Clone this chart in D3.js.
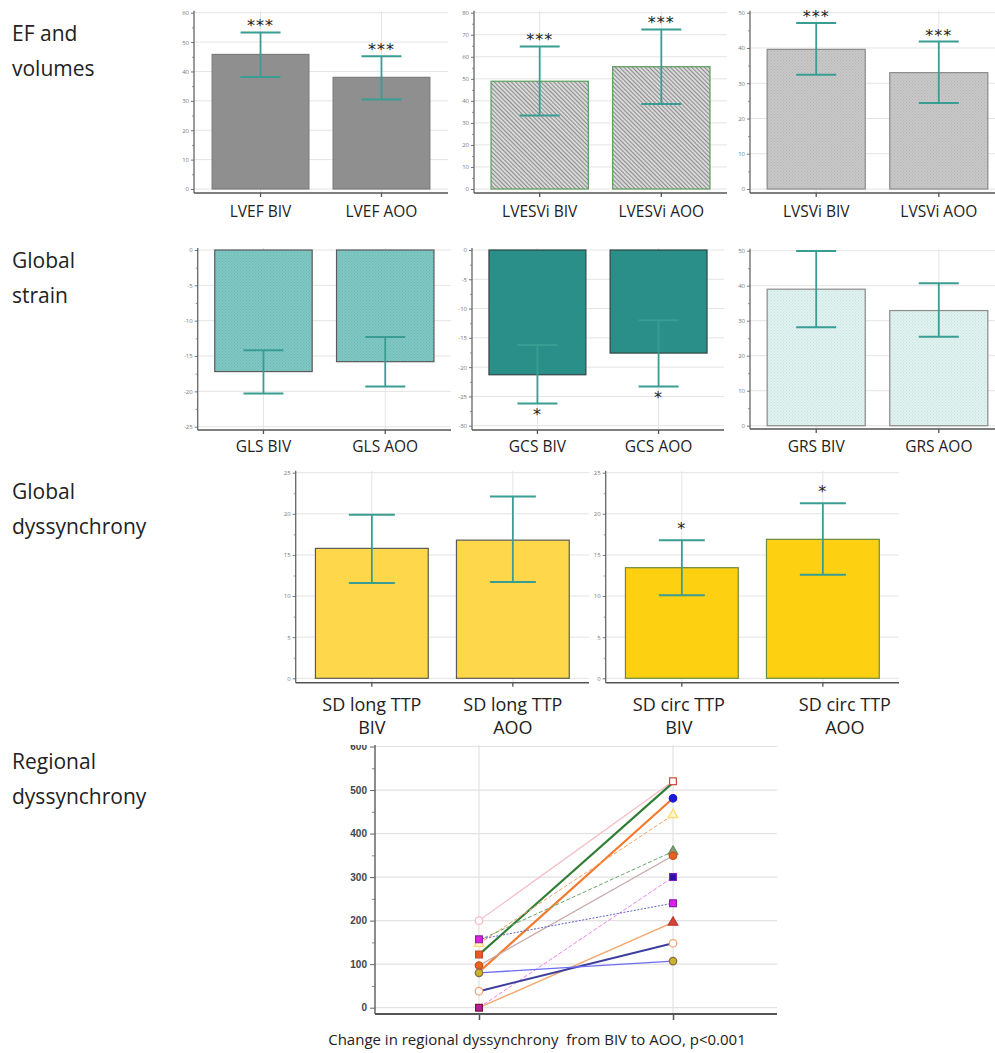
<!DOCTYPE html>
<html>
<head>
<meta charset="utf-8">
<script src="https://cdn.jsdelivr.net/npm/d3@7"></script>
<style>
body { margin: 0; background: #fff; }
text { font-family: "Open Sans", sans-serif; }
</style>
</head>
<body>
<div id="chart"></div>
<script>
var w = 995;
var h = 1053;

// ---- data ----
var lvefCats = ["LVEF BIV", "LVEF AOO"];
var lvefMean = [45.8, 38.0];
var lvefLo = [38.1, 30.5];
var lvefHi = [53.3, 45.2];
var lvefStars = ["***", "***"];

var lvesviCats = ["LVESVi BIV", "LVESVi AOO"];
var lvesviMean = [48.9, 55.5];
var lvesviLo = [33.4, 38.6];
var lvesviHi = [64.7, 72.4];
var lvesviStars = ["***", "***"];

var lvsviCats = ["LVSVi BIV", "LVSVi AOO"];
var lvsviMean = [39.6, 33.0];
var lvsviLo = [32.4, 24.4];
var lvsviHi = [47.1, 41.8];
var lvsviStars = ["***", "***"];

var glsCats = ["GLS BIV", "GLS AOO"];
var glsMean = [-17.2, -15.8];
var glsLo = [-20.3, -19.3];
var glsHi = [-14.2, -12.3];

var gcsCats = ["GCS BIV", "GCS AOO"];
var gcsMean = [-21.3, -17.6];
var gcsLo = [-26.2, -23.3];
var gcsHi = [-16.2, -12.0];
var gcsStars = ["*", "*"];

var grsCats = ["GRS BIV", "GRS AOO"];
var grsMean = [39.0, 32.9];
var grsLo = [28.1, 25.4];
var grsHi = [49.9, 40.7];

var sdLongCats = ["SD long TTP|BIV", "SD long TTP|AOO"];
var sdLongMean = [15.8, 16.8];
var sdLongLo = [11.6, 11.7];
var sdLongHi = [19.9, 22.1];

var sdCircCats = ["SD circ TTP|BIV", "SD circ TTP|AOO"];
var sdCircMean = [13.45, 16.9];
var sdCircLo = [10.1, 12.6];
var sdCircHi = [16.8, 21.3];
var sdCircStars = ["*", "*"];

var regGroups = ["BIV", "AOO"];
var regBiv = [200, 122, 82, 147, 155, 97, 0, 157, 0, 38, 80];
var regAoo = [520, 517, 481, 443, 359, 349, 300, 240, 196, 148, 107];
var regTicks = [0, 100, 200, 300, 400, 500, 600];

var rowTitles = [["EF and", "volumes"], ["Global", "strain"], ["Global", "dyssynchrony"], ["Regional", "dyssynchrony"]];
var caption = "Change in regional dyssynchrony  from BIV to AOO, p<0.001";

// ---- styles for the individual patient lines ----
var regStyle = [
	{color: "#f6b8c3", width: 1.2, dash: null, mB: ["circle", "#fff", "#f6b8c3"], mA: ["square", "#fff", "#d24a45"]},
	{color: "#2f7d32", width: 2.2, dash: null, mB: ["square", "#ea5a25", "#c44a20"], mA: null},
	{color: "#f27a2e", width: 2.2, dash: null, mB: null, mA: ["circle", "#1a1ad6", "#1a1ad6"]},
	{color: "#f4a468", width: 1, dash: "4,2", mB: ["triangle", "#fff6c8", "#ffd86a"], mA: ["triangle", "#fff6c8", "#ffd86a"]},
	{color: "#6aa66a", width: 1, dash: "4,2", mB: null, mA: ["triangle", "#8a9c78", "#6a8a60"]},
	{color: "#c9a9a9", width: 1.3, dash: null, mB: ["circle", "#e8621f", "#c85020"], mA: ["circle", "#e8621f", "#c85020"]},
	{color: "#f07ef0", width: 1, dash: "4,2", mB: ["square", "#b0209a", "#8a1040"], mA: ["square", "#2a10a8", "#7a20c0"]},
	{color: "#6262cc", width: 1, dash: "2,1.5", mB: ["square", "#e020e8", "#8a20a8"], mA: ["square", "#e020e8", "#8a20a8"]},
	{color: "#f4a468", width: 1.3, dash: null, mB: null, mA: ["triangle", "#d8433a", "#b83a30"]},
	{color: "#3d3d9e", width: 2, dash: null, mB: ["circle", "#fff", "#f4a070"], mA: ["circle", "#fff", "#f4a070"]},
	{color: "#6d6df4", width: 1.3, dash: null, mB: ["circle", "#c8b428", "#8a6a48"], mA: ["circle", "#c8b428", "#8a6a48"]}
];

var barPanels = [
	{cats: lvefCats, mean: lvefMean, lo: lvefLo, hi: lvefHi, stars: lvefStars, domain: [0, 60], major: 10, minor: 5,
	 left: 194, right: 448, top: 12.7, bottom: 189, axisAt: 193, outer: 0.15, fill: "#8f8f8f", stroke: "#7c7c7c",
	 starSide: "above", starGap: 0, labelY: [212], labelSize: 15.5, capW: 40},
	{cats: lvesviCats, mean: lvesviMean, lo: lvesviLo, hi: lvesviHi, stars: lvesviStars, domain: [0, 80], major: 10, minor: 5,
	 left: 474, right: 727, top: 12.7, bottom: 189, axisAt: 193, outer: 0.14, fill: "url(#hatch)", stroke: "#5c9c5c",
	 starSide: "above", starGap: 0, labelY: [212], labelSize: 15.5, capW: 40},
	{cats: lvsviCats, mean: lvsviMean, lo: lvsviLo, hi: lvsviHi, stars: lvsviStars, domain: [0, 50], major: 10, minor: 5,
	 left: 750, right: 1005, top: 12.7, bottom: 189, axisAt: 193, outer: 0.14, fill: "url(#dotsGray)", stroke: "#8a8a8a",
	 starSide: "above", starGap: 0, labelY: [212], labelSize: 15.5, capW: 40},
	{cats: glsCats, mean: glsMean, lo: glsLo, hi: glsHi, stars: null, domain: [-25, 0], major: 5, minor: 2.5,
	 left: 197.7, right: 451, top: 250, bottom: 426.7, axisAt: 430, outer: 0.14, fill: "url(#dotsTeal)", stroke: "#5a5a5a",
	 starSide: "below", starGap: 0, labelY: [447], labelSize: 15.5, capW: 40},
	{cats: gcsCats, mean: gcsMean, lo: gcsLo, hi: gcsHi, stars: gcsStars, domain: [-30, 0], major: 5, minor: 2.5,
	 left: 472, right: 724, top: 250, bottom: 425.7, axisAt: 430, outer: 0.14, fill: "#2a8f88", stroke: "#344",
	 starSide: "below", starGap: 17, labelY: [447], labelSize: 15.5, capW: 40},
	{cats: grsCats, mean: grsMean, lo: grsLo, hi: grsHi, stars: null, domain: [0, 50], major: 10, minor: 5,
	 left: 750, right: 1005, top: 250.7, bottom: 425.7, axisAt: 429, outer: 0.14, fill: "url(#dotsPale)", stroke: "#8a8a8a",
	 starSide: "above", starGap: 0, labelY: [447], labelSize: 15.5, capW: 40},
	{cats: sdLongCats, mean: sdLongMean, lo: sdLongLo, hi: sdLongHi, stars: null, domain: [0, 25], major: 5, minor: 2.5,
	 left: 295.7, right: 589, top: 472.7, bottom: 678.3, axisAt: 682.7, outer: 0.14, fill: "#fed84a", stroke: "#5a5a5a",
	 starSide: "above", starGap: 0, labelY: [705, 728], labelSize: 18, capW: 46, labelShift: [0, 0]},
	{cats: sdCircCats, mean: sdCircMean, lo: sdCircLo, hi: sdCircHi, stars: sdCircStars, domain: [0, 25], major: 5, minor: 2.5,
	 left: 605.7, right: 899, top: 472.7, bottom: 678.3, axisAt: 682.7, outer: 0.14, fill: "#fdd012", stroke: "#6c8a40",
	 starSide: "above", starGap: 5, labelY: [705, 728], labelSize: 18, capW: 46, labelShift: [-3, 22]}
];

var errColor = "#3a9d93";

var svg = d3.select("#chart")
			.append("svg")
			.attr("width", w)
			.attr("height", h);

// fill textures
var defs = svg.append("defs");

var hatch = defs.append("pattern")
	.attr("id", "hatch")
	.attr("patternUnits", "userSpaceOnUse")
	.attr("width", 3)
	.attr("height", 3)
	.attr("patternTransform", "rotate(-45)");
hatch.append("rect").attr("width", 3).attr("height", 3).attr("fill", "#dadada");
hatch.append("line").attr("x1", 0.5).attr("y1", 0).attr("x2", 0.5).attr("y2", 3)
	.attr("stroke", "#8c8c8c").attr("stroke-width", 1.1);

function dotPattern(id, base, dot) {
	var p = defs.append("pattern")
		.attr("id", id)
		.attr("patternUnits", "userSpaceOnUse")
		.attr("width", 3)
		.attr("height", 3);
	p.append("rect").attr("width", 3).attr("height", 3).attr("fill", base);
	p.append("rect").attr("width", 1).attr("height", 1).attr("fill", dot);
	p.append("rect").attr("x", 1.5).attr("y", 1.5).attr("width", 1).attr("height", 1).attr("fill", dot);
}
dotPattern("dotsGray", "#c8c8c8", "#b4b4b4");
dotPattern("dotsTeal", "#80c8c4", "#6cb6b2");
dotPattern("dotsPale", "#e2f2f0", "#c4e2de");

// row titles on the left
var titleY = [41, 268, 499, 769];
rowTitles.forEach(function(lines, r) {
	lines.forEach(function(t, k) {
		svg.append("text")
			.attr("x", 12)
			.attr("y", titleY[r] + k * 35)
			.style("font-size", "21px")
			.style("fill", "#222")
			.text(t);
	});
});

barPanels.forEach(drawBarPanel);
drawRegional();

function drawBarPanel(p) {
	var g = svg.append("g");

	var xScale = d3.scaleBand()
		.domain(p.cats)
		.range([p.left, p.right])
		.paddingInner(0.2)
		.paddingOuter(p.outer);

	var yScale = d3.scaleLinear()
		.domain(p.domain)
		.range([p.bottom, p.top]);

	var majors = d3.range(p.domain[0], p.domain[1] + 0.001, p.major);
	var minors = d3.range(p.domain[0], p.domain[1] + 0.001, p.minor).filter(function(v) {
		return majors.indexOf(v) < 0;
	});

	var center = function(c) { return xScale(c) + xScale.bandwidth() / 2; };

	// grid
	g.selectAll(".hgrid")
		.data(majors)
		.enter()
		.append("line")
		.attr("x1", p.left)
		.attr("x2", p.right)
		.attr("y1", function(d) { return yScale(d); })
		.attr("y2", function(d) { return yScale(d); })
		.attr("stroke", "#e4e4e4")
		.attr("stroke-width", 1);

	g.selectAll(".vgrid")
		.data(p.cats)
		.enter()
		.append("line")
		.attr("x1", center)
		.attr("x2", center)
		.attr("y1", p.top - 2)
		.attr("y2", p.axisAt)
		.attr("stroke", "#e4e4e4")
		.attr("stroke-width", 1);

	// bars
	g.selectAll(".bar")
		.data(p.mean)
		.enter()
		.append("rect")
		.attr("x", function(d, i) { return xScale(p.cats[i]); })
		.attr("y", function(d) { return Math.min(yScale(d), yScale(0)); })
		.attr("width", xScale.bandwidth())
		.attr("height", function(d) { return Math.abs(yScale(d) - yScale(0)); })
		.attr("fill", p.fill)
		.attr("stroke", p.stroke)
		.attr("stroke-width", 1.2);

	// error bars
	p.cats.forEach(function(c, i) {
		var cx = center(c);
		g.append("line")
			.attr("x1", cx).attr("x2", cx)
			.attr("y1", yScale(p.lo[i])).attr("y2", yScale(p.hi[i]))
			.attr("stroke", errColor).attr("stroke-width", 1.8);
		[p.lo[i], p.hi[i]].forEach(function(v) {
			g.append("line")
				.attr("x1", cx - p.capW / 2).attr("x2", cx + p.capW / 2)
				.attr("y1", yScale(v)).attr("y2", yScale(v))
				.attr("stroke", errColor).attr("stroke-width", 2);
		});
		if (p.stars && p.stars[i]) {
			var sy = p.starSide === "above" ? yScale(p.hi[i]) - 1 - p.starGap : yScale(p.lo[i]) + p.starGap;
			g.append("text")
				.attr("x", cx)
				.attr("y", sy)
				.style("text-anchor", "middle")
				.style("font-family", "DejaVu Sans")
				.style("font-size", "16px")
				.style("letter-spacing", "1px")
				.style("fill", "#222")
				.text(p.stars[i]);
		}
	});

	// axes
	var yAxis = d3.axisLeft(yScale)
		.tickValues(majors)
		.tickSize(3)
		.tickPadding(2)
		.tickFormat(function(d) { return String(d); });
	var ya = g.append("g")
		.attr("transform", "translate(" + p.left + ",0)")
		.call(yAxis);
	ya.select(".domain").remove();
	ya.selectAll("line").attr("stroke", "#777");
	ya.selectAll("text").style("font-size", "6px").style("fill", "#777");

	var yMinor = d3.axisLeft(yScale)
		.tickValues(minors)
		.tickSize(2)
		.tickFormat("");
	var ym = g.append("g")
		.attr("transform", "translate(" + p.left + ",0)")
		.call(yMinor);
	ym.select(".domain").remove();
	ym.selectAll("line").attr("stroke", "#999");

	var xAxis = d3.axisBottom(xScale)
		.tickSize(4)
		.tickFormat("");
	var xa = g.append("g")
		.attr("transform", "translate(0," + p.axisAt + ")")
		.call(xAxis);
	xa.select(".domain").remove();
	xa.selectAll("line").attr("stroke", "#555").attr("stroke-width", 1.3);

	g.append("line")
		.attr("x1", p.left).attr("x2", p.left)
		.attr("y1", p.top - 2).attr("y2", p.axisAt)
		.attr("stroke", "#666").attr("stroke-width", 1.3);
	g.append("line")
		.attr("x1", p.left).attr("x2", p.right)
		.attr("y1", p.axisAt).attr("y2", p.axisAt)
		.attr("stroke", "#555").attr("stroke-width", 1.6);

	// category labels
	p.cats.forEach(function(c, i) {
		var shift = p.labelShift ? p.labelShift[i] : 0;
		c.split("|").forEach(function(line, k) {
			g.append("text")
				.attr("x", center(c) + shift)
				.attr("y", p.labelY[k])
				.attr("dy", "0.35em")
				.style("text-anchor", "middle")
				.style("font-size", p.labelSize + "px")
				.style("fill", "#222")
				.text(line);
		});
	});
}

function drawRegional() {
	var left = 375, right = 777, axisAt = 1014;

	// the top of this chart is cropped in the figure
	defs.append("clipPath")
		.attr("id", "regClip")
		.append("rect")
		.attr("x", 0).attr("y", 745)
		.attr("width", w).attr("height", h - 745);

	var g = svg.append("g").attr("clip-path", "url(#regClip)");

	var xScale = d3.scalePoint()
		.domain(regGroups)
		.range([left, right])
		.padding(0.536);

	var yScale = d3.scaleLinear()
		.domain([0, 600])
		.range([1007.7, 746.5]);

	var top = yScale(600) - 6;

	g.selectAll(".hgrid")
		.data(regTicks)
		.enter()
		.append("line")
		.attr("x1", left).attr("x2", right)
		.attr("y1", function(d) { return yScale(d); })
		.attr("y2", function(d) { return yScale(d); })
		.attr("stroke", "#e2e2e2").attr("stroke-width", 1.2);

	g.selectAll(".vgrid")
		.data(regGroups)
		.enter()
		.append("line")
		.attr("x1", function(d) { return xScale(d); })
		.attr("x2", function(d) { return xScale(d); })
		.attr("y1", top).attr("y2", axisAt)
		.attr("stroke", "#e2e2e2").attr("stroke-width", 1.2);

	var yAxis = d3.axisLeft(yScale)
		.tickValues(regTicks)
		.tickSize(5)
		.tickPadding(3);
	var ya = g.append("g")
		.attr("transform", "translate(" + left + ",0)")
		.call(yAxis);
	ya.select(".domain").remove();
	ya.selectAll("line").attr("stroke", "#666");
	ya.selectAll("text")
		.style("font-family", "Liberation Sans")
		.style("font-weight", "bold")
		.style("font-size", "10px")
		.style("fill", "#444");

	var yMinor = d3.axisLeft(yScale)
		.tickValues(d3.range(50, 600, 100))
		.tickSize(3)
		.tickFormat("");
	var ym = g.append("g")
		.attr("transform", "translate(" + left + ",0)")
		.call(yMinor);
	ym.select(".domain").remove();
	ym.selectAll("line").attr("stroke", "#888");

	var xAxis = d3.axisBottom(xScale)
		.tickSize(6)
		.tickFormat("");
	var xa = g.append("g")
		.attr("transform", "translate(0," + axisAt + ")")
		.call(xAxis);
	xa.select(".domain").remove();
	xa.selectAll("line").attr("stroke", "#555").attr("stroke-width", 1.5);

	g.append("line")
		.attr("x1", left).attr("x2", left)
		.attr("y1", top).attr("y2", axisAt)
		.attr("stroke", "#666").attr("stroke-width", 1.5);
	g.append("line")
		.attr("x1", left).attr("x2", right)
		.attr("y1", axisAt).attr("y2", axisAt)
		.attr("stroke", "#555").attr("stroke-width", 2);

	// patient lines
	regBiv.forEach(function(v, i) {
		var s = regStyle[i];
		g.append("line")
			.attr("x1", xScale("BIV")).attr("y1", yScale(v))
			.attr("x2", xScale("AOO")).attr("y2", yScale(regAoo[i]))
			.attr("stroke", s.color)
			.attr("stroke-width", s.width)
			.attr("stroke-dasharray", s.dash);
	});

	var shapes = {circle: d3.symbolCircle, square: d3.symbolSquare, triangle: d3.symbolTriangle};
	var sizes = {circle: 44, square: 46, triangle: 40};
	function marker(m, gx, v) {
		if (!m) return;
		g.append("path")
			.attr("d", d3.symbol().type(shapes[m[0]]).size(sizes[m[0]])())
			.attr("transform", "translate(" + gx + "," + yScale(v) + ")")
			.attr("fill", m[1])
			.attr("stroke", m[2])
			.attr("stroke-width", 1.2);
	}
	regBiv.forEach(function(v, i) {
		marker(regStyle[i].mB, xScale("BIV"), v);
		marker(regStyle[i].mA, xScale("AOO"), regAoo[i]);
	});

	svg.append("text")
		.attr("x", 537)
		.attr("y", 1040)
		.attr("dy", "0.35em")
		.style("text-anchor", "middle")
		.style("font-size", "15px")
		.style("fill", "#222")
		.style("white-space", "pre")
		.text(caption);
}
</script>
</body>
</html>
